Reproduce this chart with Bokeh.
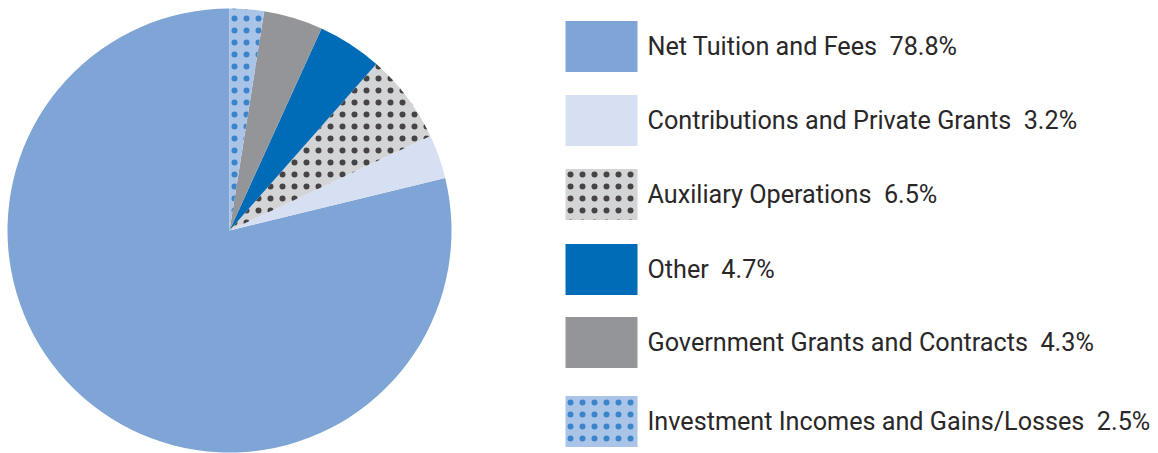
import math
from bokeh.plotting import figure
from bokeh.models import ColumnDataSource
from bokeh.core.properties import value
from bokeh.embed import file_html
from bokeh.resources import INLINE

categories = ["Net Tuition and Fees", "Contributions and Private Grants", "Auxiliary Operations",
              "Other", "Government Grants and Contracts", "Investment Incomes and Gains/Losses"]
shares = [78.8, 3.2, 6.5, 4.7, 4.3, 2.5]
colors = ["#7fa4d6", "#d6e0f2", "#d3d4d6", "#006bb6", "#939598", "#aac4e8"]
hatches = ["blank", "blank", "dot", "blank", "blank", "dot"]
hatch_colors = ["#000000", "#000000", "#231f20", "#000000", "#000000", "#1f74c2"]

W, H = 1158, 453
p = figure(width=W, height=H, x_range=(0, W), y_range=(0, H), output_backend="svg",
           toolbar_location=None, min_border=0, outline_line_color=None)
p.axis.visible = False
p.grid.visible = False

# wedges (anticlockwise from 12 o'clock)
starts, ends = [], []
a = math.pi / 2
for s in shares:
    starts.append(a)
    a += s / 100 * 2 * math.pi
    ends.append(a)

cx, cy, r = 229, 223, 222
src = ColumnDataSource(dict(start=starts, end=ends, color=colors, hatch=hatches, hcol=hatch_colors))
p.wedge(x=cx, y=cy, radius=r, start_angle="start", end_angle="end", fill_color="color",
        line_color=None, hatch_pattern="hatch", hatch_color="hcol", hatch_scale=12,
        hatch_weight=0.7, hatch_alpha=0.8, source=src)

# legend
row_y = [H - y for y in [46, 120, 194, 269, 342, 421]]
labels = [f"{c}\u00a0\u00a0{s}%" for c, s in zip(categories, shares)]
lsrc = ColumnDataSource(dict(y=row_y, color=colors, hatch=hatches, hcol=hatch_colors, label=labels))
p.rect(x=601, y="y", width=72, height=51, fill_color="color", line_color=None,
       hatch_pattern="hatch", hatch_color="hcol", hatch_scale=12, hatch_weight=0.7,
       hatch_alpha=0.8, source=lsrc)
p.text(x=647, y="y", text="label", text_font=value("Roboto"), text_font_size="25.2px",
       text_color="#2a2728", text_baseline="middle", text_align="left", source=lsrc)

open("out.html", "w").write(file_html(p, INLINE))
